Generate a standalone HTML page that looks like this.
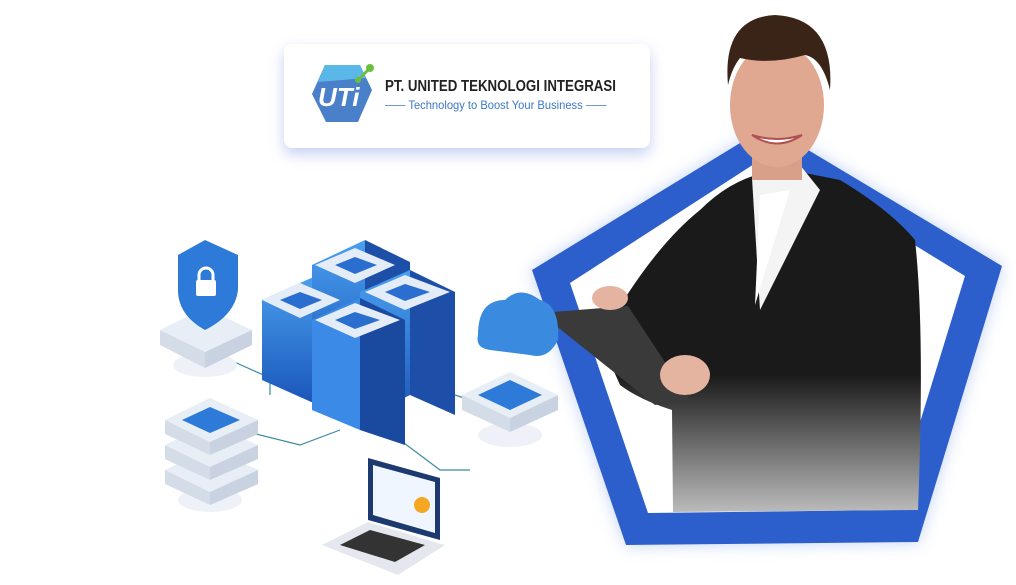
<!DOCTYPE html>
<html><head><meta charset="utf-8"><style>
body{margin:0;width:1016px;height:585px;background:#fff;overflow:hidden;position:relative;font-family:"Liberation Sans",sans-serif}
.card{position:absolute;left:284px;top:44px;width:366px;height:104px;background:#fff;border-radius:8px;box-shadow:0 6px 14px rgba(90,120,220,.35)}
.t1{position:absolute;left:385px;top:78px;font-size:16px;font-weight:bold;color:#222;white-space:nowrap;transform:scaleX(.83);transform-origin:0 0}
.t2{position:absolute;left:385px;top:98px;font-size:12px;color:#3d78c8;white-space:nowrap;transform:scaleX(.93);transform-origin:0 0}
</style></head><body>
<svg width="1016" height="585" style="position:absolute;left:0;top:0">
<defs>
<filter id="gl" x="-20%" y="-20%" width="140%" height="140%"><feGaussianBlur stdDeviation="8"/></filter>
<linearGradient id="suit" x1="0" y1="0" x2="0" y2="1"><stop offset="0.6" stop-color="#1a1a1a"/><stop offset="1" stop-color="#bbb"/></linearGradient>
<linearGradient id="srv" x1="0" y1="0" x2="0" y2="1"><stop offset="0" stop-color="#4aa0f0"/><stop offset="1" stop-color="#1a55b8"/></linearGradient>
</defs>
<polygon points="768,126 1002,266 918,542 626,545 532,270" fill="#a8c0f0" filter="url(#gl)" opacity=".7"/>
<polygon points="768,126 1002,266 918,542 626,545 532,270" fill="#2c5fcb"/>
<polygon points="768,155 965,276 893,510 648,513 570,283" fill="#fff"/>
<path d="M700,210 Q740,170 790,170 L840,180 Q890,210 915,240 Q925,330 918,510 L673,512 L672,410 Q640,400 620,385 L600,340 Q650,250 700,210Z" fill="url(#suit)"/>
<path d="M752,178 L800,165 L820,190 L760,310 Z" fill="#f4f4f4"/>
<path d="M760,195 L790,190 L755,305 Z" fill="#fff"/>
<rect x="752" y="140" width="50" height="40" fill="#d8a088"/>
<ellipse cx="777" cy="105" rx="47" ry="62" fill="#e0a890"/>
<path d="M728,85 Q722,18 775,15 Q835,18 830,90 Q822,58 805,55 Q770,65 740,58 Q732,68 728,85Z" fill="#3a2418"/>
<path d="M752,135 Q777,152 802,135 Q777,143 752,135Z" fill="#fff" stroke="#b05050" stroke-width="2"/>
<polygon points="540,313 628,306 690,400 655,405" fill="#3a3a3a"/>
<ellipse cx="610" cy="298" rx="18" ry="12" fill="#e4b4a0"/>
<ellipse cx="685" cy="375" rx="25" ry="20" fill="#e4b4a0"/>
<g stroke="#3a8aa0" stroke-width="1.2" fill="none">
<path d="M230,360 L270,378 L270,395"/><path d="M240,430 L300,445 L340,430"/><path d="M400,440 L440,470 L470,470"/><path d="M410,380 L470,400"/>
</g>
<ellipse cx="205" cy="365" rx="32" ry="12" fill="#eef2f8"/>
<polygon points="160,330 205,308 252,330 205,352" fill="#e8eef6"/>
<polygon points="160,330 205,352 205,368 160,345" fill="#d4dce8"/>
<polygon points="252,330 205,352 205,368 252,345" fill="#c8d2e0"/>
<path d="M178,255 L205,240 L238,255 L238,290 Q235,315 205,330 Q178,315 178,290Z" fill="#2d7ad8"/>
<rect x="196" y="280" width="20" height="16" rx="2" fill="#fff"/>
<path d="M199,281 v-6 a7,7 0 0 1 14,0 v6" stroke="#fff" stroke-width="3" fill="none"/>
<ellipse cx="210" cy="500" rx="32" ry="12" fill="#eef2f8"/>
<g>
<polygon points="165,470 210,448 258,470 210,492" fill="#e8eef6"/><polygon points="165,470 210,492 210,505 165,484" fill="#d4dce8"/><polygon points="258,470 210,492 210,505 258,484" fill="#c8d2e0"/>
<polygon points="165,445 210,423 258,445 210,467" fill="#e8eef6"/><polygon points="165,445 210,467 210,480 165,459" fill="#d4dce8"/><polygon points="258,445 210,467 210,480 258,459" fill="#c8d2e0"/>
<polygon points="165,420 210,398 258,420 210,442" fill="#e8eef6"/><polygon points="165,420 210,442 210,455 165,434" fill="#d4dce8"/><polygon points="258,420 210,442 210,455 258,434" fill="#c8d2e0"/>
<polygon points="182,420 210,407 240,420 210,433" fill="#2d7ad8"/>
</g>
<g>
<polygon points="262,300 318,275 318,405 262,380" fill="url(#srv)"/><polygon points="318,275 360,300 360,425 318,405" fill="#1e4fa8"/>
<polygon points="312,265 365,240 365,360 312,385" fill="url(#srv)"/><polygon points="365,240 410,262 410,385 365,360" fill="#1e4fa8"/>
<polygon points="360,292 410,270 410,395 360,420" fill="url(#srv)"/><polygon points="410,270 455,292 455,415 410,395" fill="#1e4fa8"/>
<polygon points="312,320 360,298 360,430 312,410" fill="#3b8ae8"/><polygon points="360,298 405,320 405,445 360,430" fill="#1a4aa0"/>
<polygon points="262,300 300,283 340,300 300,318" fill="#e4ecf8"/><polygon points="315,265 355,248 395,265 355,283" fill="#e4ecf8"/>
<polygon points="365,292 405,275 450,292 405,310" fill="#e4ecf8"/><polygon points="315,320 355,303 400,320 355,338" fill="#e4ecf8"/>
<polygon points="280,300 300,292 322,300 300,309" fill="#2a6fd0"/><polygon points="335,265 355,257 377,265 355,274" fill="#2a6fd0"/>
<polygon points="385,292 405,284 430,292 405,301" fill="#2a6fd0"/><polygon points="335,320 355,312 380,320 355,329" fill="#2a6fd0"/>
</g>
<ellipse cx="510" cy="435" rx="32" ry="12" fill="#eef2f8"/>
<polygon points="462,395 510,372 558,395 510,418" fill="#e8eef6"/><polygon points="462,395 510,418 510,432 462,410" fill="#d4dce8"/><polygon points="558,395 510,418 510,432 558,410" fill="#c8d2e0"/>
<polygon points="478,395 510,380 542,395 510,410" fill="#2d7ad8"/>
<path d="M478,335 Q478,300 505,300 Q520,285 540,300 Q560,305 558,340 Q548,360 530,355 L490,350 Q475,348 478,335Z" fill="#3a8ae0"/>
<polygon points="368,458 440,478 440,540 368,520" fill="#1c3a70"/>
<polygon points="373,465 435,482 435,533 373,515" fill="#f0f6ff"/>
<circle cx="422" cy="505" r="8" fill="#f5a623"/>
<polygon points="322,545 368,522 445,545 398,575" fill="#e4e8ee"/>
<polygon points="340,545 370,530 425,545 395,562" fill="#333"/>
</svg>
<div class="card">
<svg width="70" height="70" style="position:absolute;left:26px;top:16px" viewBox="0 0 70 70">
<polygon points="15,5 50,5 62,30 48,62 16,62 2,34" fill="#4a7fc9"/>
<polygon points="15,5 50,5 56,18 8,22" fill="#5ab8e8"/>
<line x1="48" y1="20" x2="60" y2="8" stroke="#6cbf3c" stroke-width="3"/><circle cx="60" cy="8" r="4" fill="#6cbf3c"/><circle cx="48" cy="20" r="3" fill="#6cbf3c"/>
<text x="8" y="46" font-family="Liberation Sans" font-weight="bold" font-style="italic" font-size="26" fill="#fff">UTi</text>
</svg>
</div>
<div class="t1">PT. UNITED TEKNOLOGI INTEGRASI</div>
<div class="t2"><span style="display:inline-block;width:22px;border-top:1px solid #6a9ad8;vertical-align:middle"></span> Technology to Boost Your Business <span style="display:inline-block;width:22px;border-top:1px solid #6a9ad8;vertical-align:middle"></span></div>
</body></html>
